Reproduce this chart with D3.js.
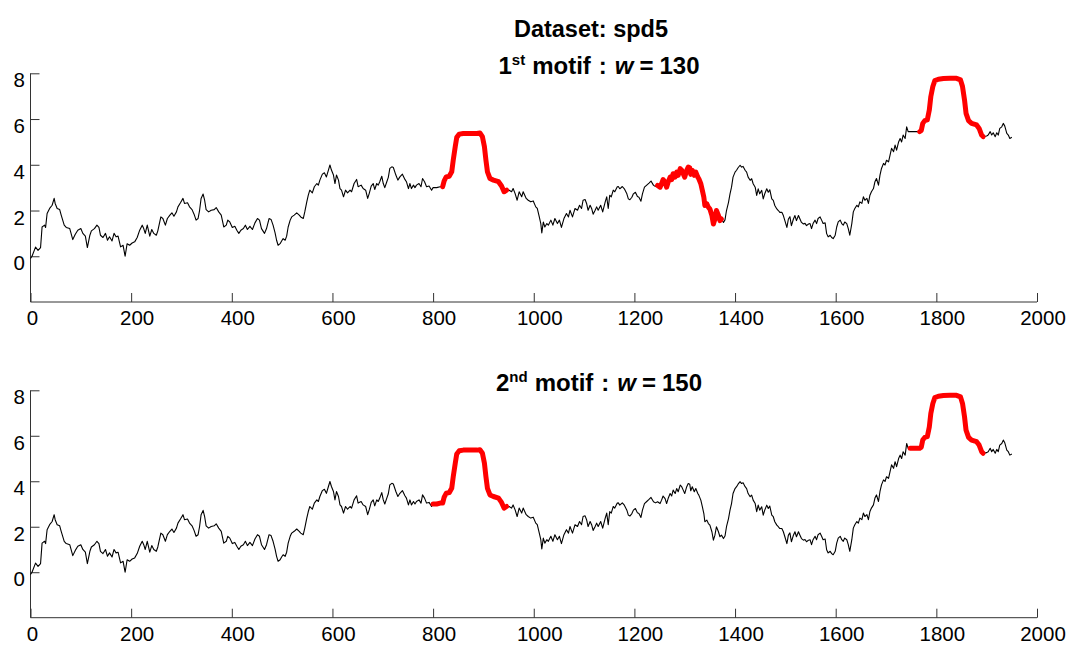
<!DOCTYPE html>
<html>
<head>
<meta charset="utf-8">
<script src="https://cdn.jsdelivr.net/npm/d3@7"></script>
<style>
  html, body { margin: 0; padding: 0; background: #fff; }
  svg { display: block; }
  text { font-family: "Liberation Sans", Arial, Helvetica, sans-serif; }
</style>
</head>
<body>
<svg id="chart" width="1073" height="646"></svg>
<script>
// ---- data ----
const sampleX = [
0,3,10,15,20,23,28,30,33,38,43,47,49,53,58,61,67,71,78,84,89,94,100,104,109,113,118,121,127,132,136,139,144,149,153,157,162,166,170,174,179,184,188,192,197,202,207,212,217,222,225,228,232,237,241,245,250,253,259,263,268,272,277,281,285,290,293,298,303,306,312,316,321,325,329,333,336,339,343,346,349,354,359,365,369,374,379,384,389,392,
396,401,406,410,414,418,423,427,431,436,441,446,451,455,459,465,469,474,478,482,486,489,492,496,499,502,506,509,512,516,519,524,529,534,537,542,545,549,552,555,560,564,569,572,575,580,584,588,592,595,598,602,605,608,612,615,618,622,626,630,635,638,643,648,651,657,661,666,670,673,677,681,684,688,691,694,698,701,704,708,711,714,718,721,726,730,734,739,744,747,751,754,757,761,764,767,772,776,779,783,
787,792,797,800,807,814,819,822,826,832,837,840,844,847,852,860,873,887,893,898,902,905,908,913,920,930,936,941,946,951,956,959,963,967,971,976,979,985,989,994,999,1004,1007,1011,1014,1016,1019,1022,1026,1029,1034,1038,1042,1047,1051,1055,1060,1065,1069,1072,1077,1082,1087,1091,1095,1098,1102,1105,1108,1112,1115,1118,1122,1125,1128,1133,1137,1142,1145,1148,1151,1154,1158,1161,1166,
1168,1171,1176,1180,1185,1188,1191,1195,1198,1202,1206,1209,1213,1216,1220,1224,1229,1233,1238,1242,1246,1251,1254,1257,1261,1264,1267,1271,1274,1277,1281,1284,1287,1291,1294,1297,1300,1304,1307,1310,1312,1315,1319,1322,1326,1328,1332,1335,1338,1340,1344,1347,1350,1354,1357,1360,1363,1367,1370,1373,1377,1380,1383,1387,1390,1393,1396,1400,1403,1406,1410,1413,1416,1420,1423,1426,1430,1433,1436,1440,1443,1446,1449,1453,1456,1459,1463,1466,1469,1473,1476,1479,1483,1486,1489,1493,1496,1499,1503,1506,1509,1512,1516,1519,1522,1526,1529,1532,1536,1539,1542,1546,
1549,1552,1555,1559,1562,1565,1569,1572,1575,1579,1582,1585,1589,1592,1595,1599,1602,1605,1609,1612,1615,1618,1622,1625,1628,1632,1635,1638,1642,1645,1648,1652,1655,1658,1662,1665,1668,1671,1675,1678,1681,1685,1688,1691,1695,1698,1701,1705,1708,1711,1715,1718,1721,1725,1728,1731,1734,1738,1741,1744,1748,1754,1761,1767,1770,1773,1777,1782,1786,1789,1793,1797,1804,1814,1827,1840,1848,1852,1856,1859,1864,1870,1880,1885,1890,1893,1900,1903,1907,1910,1913,1917,1920,1923,1926,1930,1933,1936,1940,1943,1946,1950
];
const sampleY = [
-0.1,0.0,0.4,0.26,0.38,1.28,1.36,1.26,1.87,2.09,2.23,2.53,2.31,2.09,2.04,1.8,1.36,1.26,1.21,0.73,0.96,1.14,1.21,1.0,0.88,0.38,0.92,1.11,1.21,1.36,1.26,0.92,0.82,1.0,0.7,0.85,0.67,1.0,0.85,0.88,0.41,0.48,0.0,0.55,0.48,0.58,0.63,0.82,1.14,1.36,1.21,1.0,1.36,0.88,1.17,1.0,0.92,1.11,1.72,1.65,1.36,1.65,1.8,1.9,1.75,1.94,2.16,2.34,2.53,2.31,2.34,2.16,2.04,1.84,1.58,1.65,2.01,2.53,2.72,2.45,2.04,1.94,2.01,2.04,2.13,1.94,1.8,1.28,1.36,1.58,
1.5,1.26,1.31,1.14,1.0,1.14,1.21,1.36,1.17,1.31,1.17,1.46,1.65,1.58,1.21,1.0,1.21,1.65,1.61,1.36,1.02,0.7,0.48,0.55,0.67,0.77,0.7,0.88,1.28,1.58,1.72,1.8,1.9,1.8,1.72,1.65,1.94,2.38,2.67,2.89,2.77,3.04,3.18,3.11,3.33,3.59,3.65,3.47,3.77,3.99,3.77,3.55,3.18,3.55,3.33,2.96,2.89,2.6,2.89,2.77,2.89,2.82,3.18,3.36,3.04,3.11,2.96,2.89,2.53,2.74,3.07,3.18,2.92,3.18,3.11,3.26,3.5,3.18,3.0,3.26,3.45,3.84,3.91,3.88,3.55,3.33,3.47,3.59,3.36,3.26,2.96,3.18,2.96,3.11,3.0,3.11,3.18,3.04,3.4,3.26,
3.04,3.07,2.89,3.0,3.0,3.04,3.04,3.3,3.47,3.5,3.69,4.2,4.79,5.2,5.34,5.37,5.37,5.37,5.39,5.23,4.79,4.2,3.69,3.4,3.33,3.26,3.07,2.82,2.89,2.89,2.82,2.96,2.74,2.45,2.82,2.6,2.82,2.53,2.45,2.38,2.42,2.16,2.09,1.72,1.43,1.02,1.5,1.28,1.43,1.36,1.58,1.36,1.65,1.43,1.58,1.26,1.65,1.87,1.72,2.01,1.72,2.09,2.01,2.23,2.09,2.45,2.48,2.31,2.01,2.23,2.09,1.84,2.01,2.16,2.01,2.23,1.94,2.38,2.6,2.09,2.67,2.6,2.89,2.82,3.04,
3.05,2.95,3.05,2.95,2.73,2.51,2.47,2.58,2.73,2.8,2.61,2.58,2.41,2.73,3.02,3.1,3.2,3.29,3.1,3.05,3.1,3.02,3.17,3.35,3.24,3.02,3.24,3.46,3.35,3.61,3.46,3.68,3.54,3.83,3.76,3.61,3.46,3.76,3.9,3.87,3.58,3.76,3.54,3.68,3.46,3.39,3.17,2.88,2.58,2.22,2.29,2.14,2.07,1.78,1.41,1.63,2.0,1.78,1.56,1.63,1.48,1.59,2.0,2.36,2.73,3.02,3.46,3.68,3.76,3.87,3.98,3.9,3.93,3.76,3.68,3.46,3.32,3.39,3.17,3.02,2.66,2.95,2.73,2.88,2.51,2.73,2.95,2.8,2.91,2.51,2.44,2.22,2.07,2.0,1.92,1.92,1.78,1.56,1.26,1.63,1.73,1.34,1.63,1.78,1.56,1.78,1.63,1.48,1.41,1.44,1.34,1.41,
1.43,1.21,1.43,1.58,1.43,1.65,1.72,1.58,1.43,1.46,0.99,0.85,0.92,0.82,0.77,0.92,1.28,1.5,1.58,1.43,1.36,1.5,1.43,1.21,0.92,1.43,1.94,2.09,2.23,2.16,2.38,2.31,2.6,2.45,2.53,2.31,2.67,2.82,2.96,3.26,3.4,3.11,3.55,3.84,4.06,3.99,4.2,4.13,4.42,4.72,4.57,4.86,4.64,5.0,5.15,5.0,5.3,5.15,5.66,5.45,5.45,5.45,5.45,5.45,5.5,5.81,5.93,5.96,6.39,6.98,7.42,7.68,7.74,7.77,7.78,7.78,7.71,7.42,6.83,6.25,5.93,5.81,5.74,5.59,5.3,5.23,5.26,5.3,5.45,5.3,5.4,5.23,5.4,5.3,5.59,5.66,5.81,5.69,5.37,5.3,5.15,5.2
];
const xTicks = [0, 200, 400, 600, 800, 1000, 1200, 1400, 1600, 1800, 2000];
const yTicks = [0, 2, 4, 6, 8];
const motif1Ranges = [[817, 947], [1245, 1375], [1765, 1895]];
const motif2Ranges = [[798, 948], [1747, 1897]];

const points = sampleX.map((x, i) => ({ x, y: sampleY[i] }));

const svg = d3.select("#chart");

const panels = [
  { top: 73.3, bottom: 302, ranges: motif1Ranges, ord: "1", sup: "st", w: "130", titleY: 74 },
  { top: 390.3, bottom: 617.7, ranges: motif2Ranges, ord: "2", sup: "nd", w: "150", titleY: 391 }
];

const xScale = d3.scaleLinear().domain([0, 2000]).range([30.5, 1037]);
const axisColor = "#333";
const tickFont = 20.5;
const titleFont = 24;

svg.append("text")
  .attr("x", 591).attr("y", 37)
  .attr("text-anchor", "middle")
  .attr("font-size", 23.5).attr("font-weight", "bold")
  .text("Dataset: spd5");

panels.forEach(p => {
  const y = d3.scaleLinear().domain([-2, 8]).range([p.bottom, p.top]);
  const g = svg.append("g");

  // x axis (ticks inward)
  const xAxis = d3.axisTop(xScale).tickValues(xTicks).tickSize(9).tickFormat("");
  const gx = g.append("g").attr("transform", `translate(0,${p.bottom})`).call(xAxis);
  gx.select(".domain").attr("d", `M${xScale(0)},0H${xScale(2000)}`).attr("stroke", axisColor);
  gx.selectAll(".tick line").attr("stroke", axisColor);
  g.append("g").selectAll("text").data(xTicks).join("text")
    .attr("x", d => xScale(d) + (d === 0 ? 2 : 6)).attr("y", p.bottom + 23)
    .attr("text-anchor", "middle").attr("font-size", tickFont).attr("fill", "#000")
    .text(d => d);

  // y axis (ticks inward)
  const yAxis = d3.axisRight(y).tickValues(yTicks).tickSize(9).tickFormat("");
  const gy = g.append("g").attr("transform", `translate(${xScale(0)},0)`).call(yAxis);
  gy.select(".domain").attr("d", `M0,${y(8)}V${y(-2)}`).attr("stroke", axisColor);
  gy.selectAll(".tick line").attr("stroke", axisColor);
  g.append("g").selectAll("text").data(yTicks).join("text")
    .attr("x", 25).attr("y", d => y(d) + 14)
    .attr("text-anchor", "end").attr("font-size", tickFont).attr("fill", "#000")
    .text(d => d);

  const line = d3.line().x(d => xScale(d.x)).y(d => y(d.y));

  g.append("path").datum(points)
    .attr("d", line).attr("fill", "none")
    .attr("stroke", "#000").attr("stroke-width", 1.1)
    .attr("stroke-linejoin", "round");

  p.ranges.forEach(r => {
    const seg = points.filter(d => d.x >= r[0] && d.x <= r[1]);
    g.append("path").datum(seg)
      .attr("d", line).attr("fill", "none")
      .attr("stroke", "#ff0000").attr("stroke-width", 5)
      .attr("stroke-linejoin", "round").attr("stroke-linecap", "round");
  });

  // panel title
  const t = svg.append("text")
    .attr("x", 599).attr("y", p.titleY)
    .attr("text-anchor", "middle")
    .attr("font-size", titleFont).attr("font-weight", "bold");
  t.append("tspan").text(p.ord);
  t.append("tspan").attr("font-size", 15).attr("dy", -9).text(p.sup);
  t.append("tspan").attr("dy", 9).attr("dx", 7).text("motif");
  t.append("tspan").attr("dx", 8).text(":");
  t.append("tspan").attr("dx", 8).attr("font-style", "italic").text("w");
  t.append("tspan").attr("dx", 6).text("=");
  t.append("tspan").attr("dx", 6).text(p.w);
});
</script>
</body>
</html>
